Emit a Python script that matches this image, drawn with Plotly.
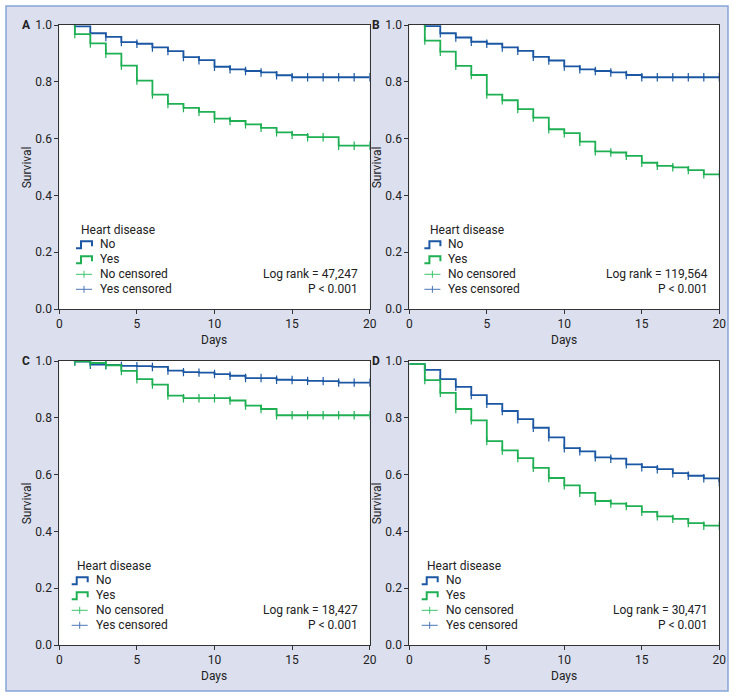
import plotly.graph_objects as go

# ---------------- data ----------------
days = list(range(1, 21))
x_ticks = [0, 5, 10, 15, 20]
y_ticks = [0.0, 0.2, 0.4, 0.6, 0.8, 1.0]
panel_letters = ["A", "B", "C", "D"]
log_ranks = ["47,247", "119,564", "18,427", "30,471"]
p_text = "P < 0.001"

# start point of each curve (day, survival)
start_day = [1, 1, 1, 0]
start_surv = [1.0, 1.0, 1.0, 0.989]

a_no = [0.995, 0.971, 0.958, 0.940, 0.934, 0.921, 0.908, 0.887, 0.876, 0.853,
        0.844, 0.838, 0.833, 0.823, 0.816, 0.816, 0.816, 0.816, 0.816, 0.816]
a_yes = [0.968, 0.935, 0.899, 0.857, 0.804, 0.755, 0.722, 0.708, 0.694, 0.670,
         0.662, 0.650, 0.638, 0.622, 0.613, 0.605, 0.605, 0.575, 0.575, 0.575]
b_no = [0.996, 0.971, 0.956, 0.941, 0.934, 0.921, 0.909, 0.888, 0.875, 0.854,
        0.844, 0.838, 0.833, 0.824, 0.816, 0.816, 0.816, 0.816, 0.816, 0.816]
b_yes = [0.945, 0.906, 0.856, 0.824, 0.755, 0.735, 0.704, 0.674, 0.633, 0.619,
         0.589, 0.555, 0.551, 0.539, 0.515, 0.504, 0.499, 0.489, 0.474, 0.474]
c_no = [0.998, 0.987, 0.986, 0.983, 0.982, 0.979, 0.966, 0.961, 0.959, 0.954,
        0.948, 0.940, 0.940, 0.934, 0.933, 0.930, 0.929, 0.924, 0.924, 0.924]
c_yes = [0.999, 0.993, 0.985, 0.965, 0.936, 0.917, 0.878, 0.869, 0.869, 0.869,
         0.861, 0.843, 0.831, 0.809, 0.809, 0.809, 0.809, 0.809, 0.809, 0.809]
d_no = [0.969, 0.936, 0.909, 0.880, 0.849, 0.824, 0.795, 0.765, 0.731, 0.693,
        0.682, 0.661, 0.656, 0.636, 0.626, 0.619, 0.605, 0.596, 0.587, 0.573]
d_yes = [0.933, 0.888, 0.831, 0.791, 0.718, 0.685, 0.658, 0.624, 0.588, 0.562,
         0.536, 0.507, 0.498, 0.489, 0.469, 0.453, 0.444, 0.429, 0.420, 0.420]

no_series = [a_no, b_no, c_no, d_no]
yes_series = [a_yes, b_yes, c_yes, d_yes]

# ---------------- style ----------------
W, H = 736, 698
BLUE = "#1b57a3"
GREEN = "#1eb053"
BLUE_L = "#4a76b8"
GREEN_L = "#3cc46c"
FONT = "Roboto, Liberation Sans, sans-serif"
FS = 12
TXT = "#222222"
LAV = "#dcdfee"

# plot boxes in pixels: (left, right, top, bottom)
boxes = [
    (59.3, 369.7, 25, 309),
    (409.3, 719.3, 25, 309),
    (59.3, 369.7, 361, 645),
    (409.3, 719.3, 361, 645),
]
legend_off = [20, 18.4, 15.7, 15.7]


def px(x):
    return x / W


def py(y):
    return 1 - y / H


def txt(x, y, s, anchor="center", angle=0, size=FS):
    return dict(x=px(x), y=py(y), xref="paper", yref="paper", text=s,
                showarrow=False, textangle=angle,
                font=dict(family=FONT, size=size, color=TXT),
                xanchor=anchor, yanchor="middle")


fig = go.Figure()
layout = dict()
shapes = []
annotations = []

for i in range(4):
    ax = "" if i == 0 else str(i + 1)
    xa, ya = "x" + ax, "y" + ax
    l, r, t, b = boxes[i]
    # curves
    for vals, col in ((no_series[i], BLUE), (yes_series[i], GREEN)):
        fig.add_trace(go.Scatter(
            x=[start_day[i]] + days, y=[start_surv[i]] + vals,
            mode="lines", line=dict(color=col, width=1.8, shape="hv"),
            xaxis=xa, yaxis=ya, showlegend=False, hoverinfo="skip"))
        fig.add_trace(go.Scatter(
            x=days, y=vals, mode="markers",
            marker=dict(symbol="line-ns", size=6, line=dict(color=col, width=1.2)),
            xaxis=xa, yaxis=ya, showlegend=False, hoverinfo="skip"))

    common = dict(showline=True, linecolor="#333333", linewidth=1, mirror=True,
                  ticks="outside", ticklen=4, tickcolor="#333333", tickwidth=1,
                  showgrid=False, zeroline=False, automargin=False,
                  tickfont=dict(family=FONT, size=FS, color=TXT))
    layout["xaxis" + ax] = dict(common, domain=[px(l), px(r)], range=[0, 20],
                                tickvals=x_ticks, anchor=ya)
    layout["yaxis" + ax] = dict(common, domain=[py(b), py(t)], range=[0, 1],
                                tickvals=y_ticks, tickformat=".1f", anchor=xa)

    # panel letter
    annotations.append(txt(l - 33, t, "<b>%s</b>" % panel_letters[i], size=12))
    # axis titles
    annotations.append(txt(l - 32, (t + b) / 2, "Survival", angle=-90))
    annotations.append(txt((l + r) / 2, b + 31, "Days"))

    # legend
    o = l + legend_off[i]
    annotations.append(txt(o, b - 79, "Heart disease", anchor="left"))
    labels = ["No", "Yes", "No censored", "Yes censored"]
    for k, lab in enumerate(labels):
        yc = b - 64.7 + 15 * k
        annotations.append(txt(o + 18.5, yc, lab, anchor="left"))
        x0s, x1s = o - 3.3, o + 12.7
        if k < 2:
            col = BLUE if k == 0 else GREEN
            path = "M %f,%f L %f,%f L %f,%f L %f,%f L %f,%f" % (
                px(x0s), py(yc + 4), px(x0s + 5), py(yc + 4), px(x0s + 5), py(yc - 3),
                px(x1s), py(yc - 3), px(x1s), py(yc + 2))
            shapes.append(dict(type="path", path=path, xref="paper", yref="paper",
                               line=dict(color=col, width=2)))
        else:
            col = GREEN_L if k == 2 else BLUE_L
            shapes.append(dict(type="line", xref="paper", yref="paper",
                               x0=px(x0s), x1=px(x1s), y0=py(yc), y1=py(yc),
                               line=dict(color=col, width=1)))
            xm = (x0s + x1s) / 2
            shapes.append(dict(type="line", xref="paper", yref="paper",
                               x0=px(xm), x1=px(xm), y0=py(yc - 3.5), y1=py(yc + 3.5),
                               line=dict(color=col, width=1)))
    # log rank text
    annotations.append(txt(r - 9.5, b - 34.7, "Log rank = %s" % log_ranks[i], anchor="right"))
    annotations.append(txt(r - 9.5, b - 19.7, p_text, anchor="right"))

# white surroundings outside the lavender frame
for (x0, x1, y0, y1) in ((0, 6, 0, H), (728, W, 0, H), (0, W, 0, 6), (0, W, 691, H)):
    shapes.append(dict(type="rect", xref="paper", yref="paper",
                       x0=px(x0), x1=px(x1), y0=py(y1), y1=py(y0),
                       fillcolor="white", line=dict(width=0)))
# frame border
shapes.append(dict(type="rect", xref="paper", yref="paper",
                   x0=px(6), x1=px(728), y0=py(691), y1=py(6),
                   fillcolor="rgba(0,0,0,0)", line=dict(color="#86a6d8", width=1.5)))

fig.update_layout(
    width=W, height=H, margin=dict(l=0, r=0, t=0, b=0),
    paper_bgcolor=LAV, plot_bgcolor="white",
    font=dict(family=FONT, size=FS, color=TXT),
    shapes=shapes, annotations=annotations, showlegend=False, **layout)

fig.write_html("out.html", config={"displayModeBar": False},
               post_script="document.body.style.margin='0';document.body.style.padding='0';")
